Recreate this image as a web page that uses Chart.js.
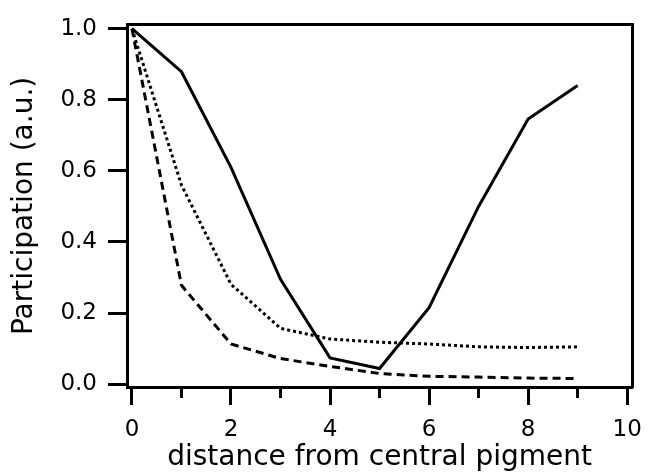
<!DOCTYPE html>
<html>
<head>
<meta charset="utf-8">
<script src="https://cdn.jsdelivr.net/npm/chart.js@4"></script>
<style>
  body { margin: 0; background: #fff; }
  canvas { display: block; }
</style>
</head>
<body>
<canvas id="chart" width="653" height="475"></canvas>
<script>
// distance from central pigment
var distances = [0, 1, 2, 3, 4, 5, 6, 7, 8, 9];

// participation curves (a.u.)
var solidValues  = [1.0, 0.879, 0.61, 0.295, 0.074, 0.044, 0.215, 0.50, 0.746, 0.840];
var dottedValues = [1.0, 0.56, 0.281, 0.157, 0.127, 0.118, 0.113, 0.105, 0.103, 0.105];
var dashedValues = [1.0, 0.278, 0.113, 0.072, 0.05, 0.03, 0.022, 0.02, 0.017, 0.016];

var yTicks = [0.0, 0.2, 0.4, 0.6, 0.8, 1.0];
var xTicks = [0, 1, 2, 3, 4, 5, 6, 7, 8, 9, 10];

function toPoints(values) {
    return values.map((v, i) => ({ x: distances[i], y: v }));
}

var tickFont = { family: 'DejaVu Sans', size: 23 };
var titleFont = { family: 'DejaVu Sans', size: 28 };

var lineChart = new Chart(document.getElementById('chart'), {
    type: 'line',
    data: {
        datasets: [
            { label: 'solid', data: toPoints(solidValues), borderColor: '#000', borderWidth: 3 },
            { label: 'dotted', data: toPoints(dottedValues), borderColor: '#000', borderWidth: 3, borderDash: [3, 3] },
            { label: 'dashed', data: toPoints(dashedValues), borderColor: '#000', borderWidth: 3, borderDash: [8, 5] }
        ]
    },
    options: {
        responsive: false,
        animation: false,
        layout: { padding: { left: 0, top: 17, right: 16, bottom: 0 } },
        elements: {
            point: { radius: 0 },
            line: { tension: 0, borderCapStyle: 'butt' }
        },
        plugins: {
            legend: { display: false },
            tooltip: { enabled: false }
        },
        scales: {
            x: {
                type: 'linear',
                position: 'bottom',
                min: -0.1,
                max: 10.1,
                afterBuildTicks: s => { s.ticks = xTicks.map(v => ({ value: v })); },
                afterFit: s => { s.height = 88; },
                ticks: {
                    color: '#000',
                    font: tickFont,
                    padding: 11,
                    maxRotation: 0,
                    autoSkip: false,
                    callback: v => (v % 2 === 0 ? String(v) : '')
                },
                grid: {
                    drawOnChartArea: false,
                    tickLength: 18,
                    tickWidth: 3,
                    tickColor: '#000',
                    tickBorderDash: ctx => (ctx.tick && ctx.tick.value % 2 !== 0 ? [9, 100] : [])
                },
                border: { color: '#000', width: 3 },
                title: {
                    display: true,
                    text: 'distance from central pigment',
                    color: '#000',
                    font: titleFont,
                    padding: { top: 0, bottom: 0 }
                }
            },
            y: {
                type: 'linear',
                position: 'left',
                min: -0.008,
                max: 1.011,
                afterBuildTicks: s => { s.ticks = yTicks.map(v => ({ value: v })); },
                afterFit: s => { s.width = 127; },
                ticks: {
                    color: '#000',
                    font: tickFont,
                    padding: 11,
                    callback: v => v.toFixed(1)
                },
                grid: {
                    drawOnChartArea: false,
                    tickLength: 19,
                    tickWidth: 3,
                    tickColor: '#000'
                },
                border: { color: '#000', width: 3 },
                title: {
                    display: true,
                    text: 'Participation (a.u.)',
                    color: '#000',
                    font: titleFont,
                    padding: { top: 8, bottom: 0 }
                }
            },
            xTop: {
                type: 'linear',
                position: 'top',
                min: -0.1,
                max: 10.1,
                afterFit: s => { s.height = 0; },
                ticks: { display: false },
                grid: { display: false, drawTicks: false },
                border: { color: '#000', width: 3 }
            },
            yRight: {
                type: 'linear',
                position: 'right',
                min: -0.008,
                max: 1.011,
                afterFit: s => { s.width = 0; },
                ticks: { display: false },
                grid: { display: false, drawTicks: false },
                border: { color: '#000', width: 3 }
            }
        }
    }
});
</script>
</body>
</html>
